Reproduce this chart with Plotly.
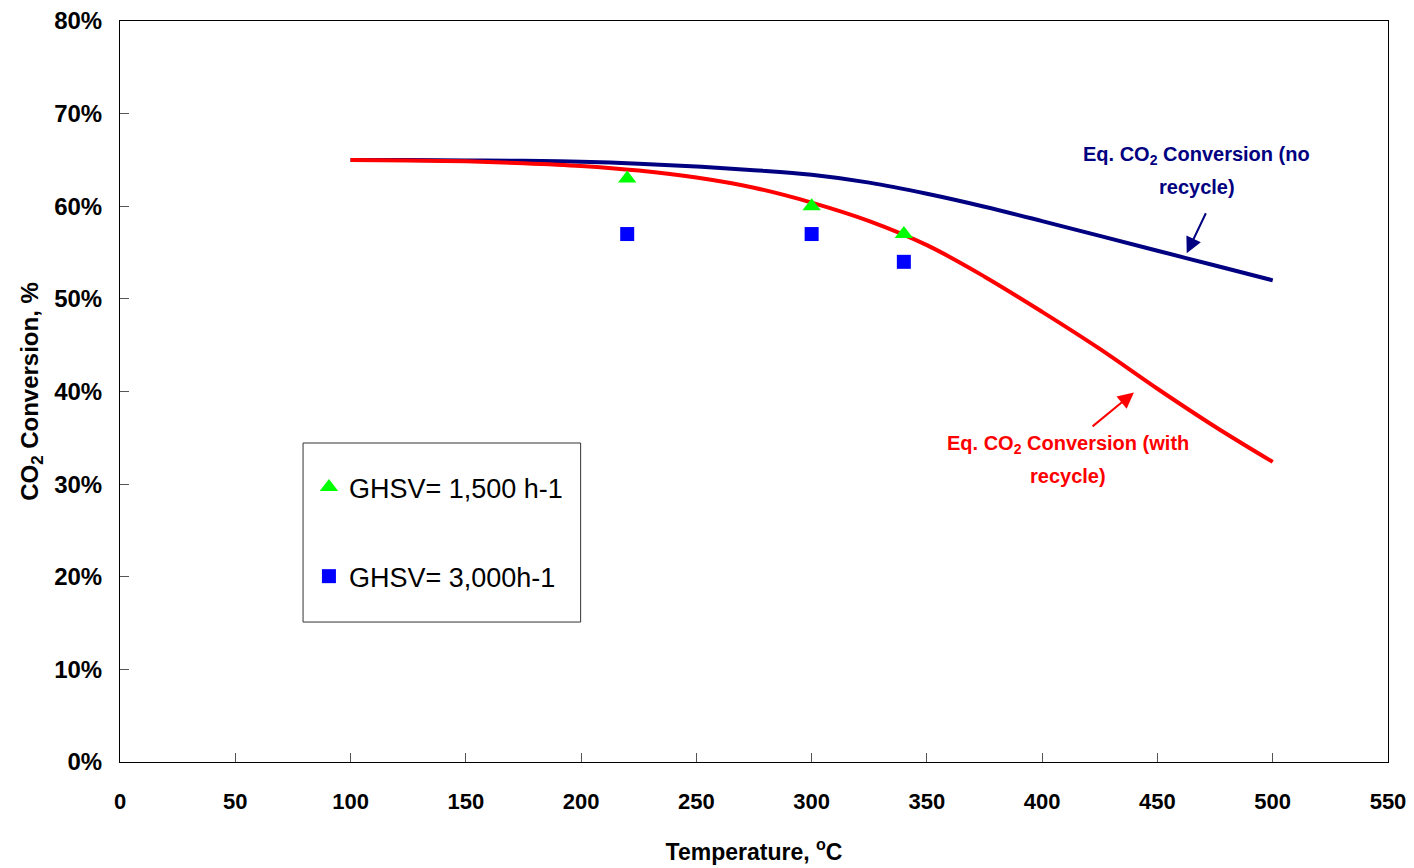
import plotly.graph_objects as go

# Equilibrium curves
temp_curve = [100, 125, 150, 175, 200, 225, 250, 275, 300, 325, 350, 375, 400, 425, 450, 475, 500]
eq_no_recycle = [0.650, 0.650, 0.6495, 0.649, 0.648, 0.646, 0.643, 0.639, 0.634, 0.6255, 0.6135,
                 0.5995, 0.584, 0.568, 0.552, 0.536, 0.520]
eq_with_recycle = [0.650, 0.6495, 0.6485, 0.6465, 0.6435, 0.6385, 0.631, 0.620, 0.604, 0.584,
                   0.558, 0.524, 0.486, 0.446, 0.403, 0.362, 0.324]

# Experimental points
temp_exp = [220, 300, 340]
ghsv_1500 = [0.63, 0.60, 0.57]
ghsv_3000 = [0.57, 0.57, 0.54]

x_ticks = [0, 50, 100, 150, 200, 250, 300, 350, 400, 450, 500, 550]
y_ticks = [0, 0.1, 0.2, 0.3, 0.4, 0.5, 0.6, 0.7, 0.8]

fig = go.Figure()
fig.add_trace(go.Scatter(x=temp_curve, y=eq_no_recycle, mode="lines",
                         line=dict(color="#000080", width=4, shape="spline", smoothing=1.0),
                         showlegend=False, name="Eq. CO2 Conversion (no recycle)"))
fig.add_trace(go.Scatter(x=temp_curve, y=eq_with_recycle, mode="lines",
                         line=dict(color="#FF0000", width=4, shape="spline", smoothing=1.0),
                         showlegend=False, name="Eq. CO2 Conversion (with recycle)"))
fig.add_trace(go.Scatter(x=temp_exp, y=ghsv_1500, mode="markers",
                         marker=dict(symbol="triangle-up", size=16, color="#00FF00"),
                         name="GHSV= 1,500 h-1", legendgroup="a"))
fig.add_trace(go.Scatter(x=temp_exp, y=ghsv_3000, mode="markers",
                         marker=dict(symbol="square", size=14, color="#0000FF"),
                         name="GHSV= 3,000h-1", legendgroup="b"))

# Legend box
fig.add_shape(type="rect", xref="x", yref="y", x0=79.4, x1=199.8, y0=0.1511, y1=0.3444,
              line=dict(color="#333333", width=1), fillcolor="rgba(0,0,0,0)", layer="below")

ann_font = "Arial, Liberation Sans, sans-serif"
labels = [
    (467.1, 0.6553, "Eq. CO<sub>2</sub> Conversion (no", "#000080"),
    (467.1, 0.6208, "recycle)", "#000080"),
    (411.2, 0.3433, "Eq. CO<sub>2</sub> Conversion (with", "#FF0000"),
    (411.2, 0.3088, "recycle)", "#FF0000"),
]
for lx, ly, lt, lc in labels:
    fig.add_annotation(x=lx, y=ly, xref="x", yref="y", showarrow=False, text=lt,
                       font=dict(family=ann_font, size=20, color=lc, weight="bold"),
                       align="center")
# Arrows
fig.add_annotation(x=462.7, y=0.5492, ax=471.3, ay=0.5941, xref="x", yref="y",
                   axref="x", ayref="y", text="", showarrow=True,
                   arrowhead=2, arrowsize=1.6, arrowwidth=2, arrowcolor="#000080")
fig.add_annotation(x=439.8, y=0.399, ax=421.2, ay=0.361, xref="x", yref="y",
                   axref="x", ayref="y", text="", showarrow=True,
                   arrowhead=2, arrowsize=1.6, arrowwidth=2, arrowcolor="#FF0000")

fig.update_layout(
    width=1406, height=860,
    margin=dict(l=112, r=26, t=13, b=106),
    plot_bgcolor="white", paper_bgcolor="white",
    font=dict(family=ann_font, color="black"),
    legend=dict(x=0.149, y=0.4035, xanchor="left", yanchor="top",
                bgcolor="rgba(0,0,0,0)", borderwidth=0,
                font=dict(size=27, family=ann_font, color="black"),
                tracegroupgap=51, itemsizing="trace"),
)
fig.update_xaxes(range=[0, 550], tickvals=x_ticks, ticktext=[str(v) for v in x_ticks],
                 automargin=False, ticklabeloverflow="allow",
                 showgrid=False, zeroline=False, showline=True, linecolor="black", linewidth=1,
                 mirror=True, ticks="inside", ticklen=9, tickcolor="#555555",
                 ticklabelstandoff=20,
                 tickfont=dict(size=22, family=ann_font, weight="bold"),
                 title=dict(text="Temperature, <sup>o</sup>C", standoff=30,
                            font=dict(size=23, family=ann_font, weight="bold")))
fig.update_yaxes(range=[0, 0.8], tickvals=y_ticks, tickformat=".0%",
                 automargin=False, ticklabeloverflow="allow",
                 showgrid=False, zeroline=False, showline=True, linecolor="black", linewidth=1,
                 mirror=True, ticks="inside", ticklen=9, tickcolor="#555555",
                 ticklabelstandoff=12,
                 tickfont=dict(size=24, family=ann_font, weight="bold"),
                 title=dict(text="CO<sub>2</sub> Conversion, %", standoff=8,
                            font=dict(size=24, family=ann_font, weight="bold")))

fig.write_html("out.html")
